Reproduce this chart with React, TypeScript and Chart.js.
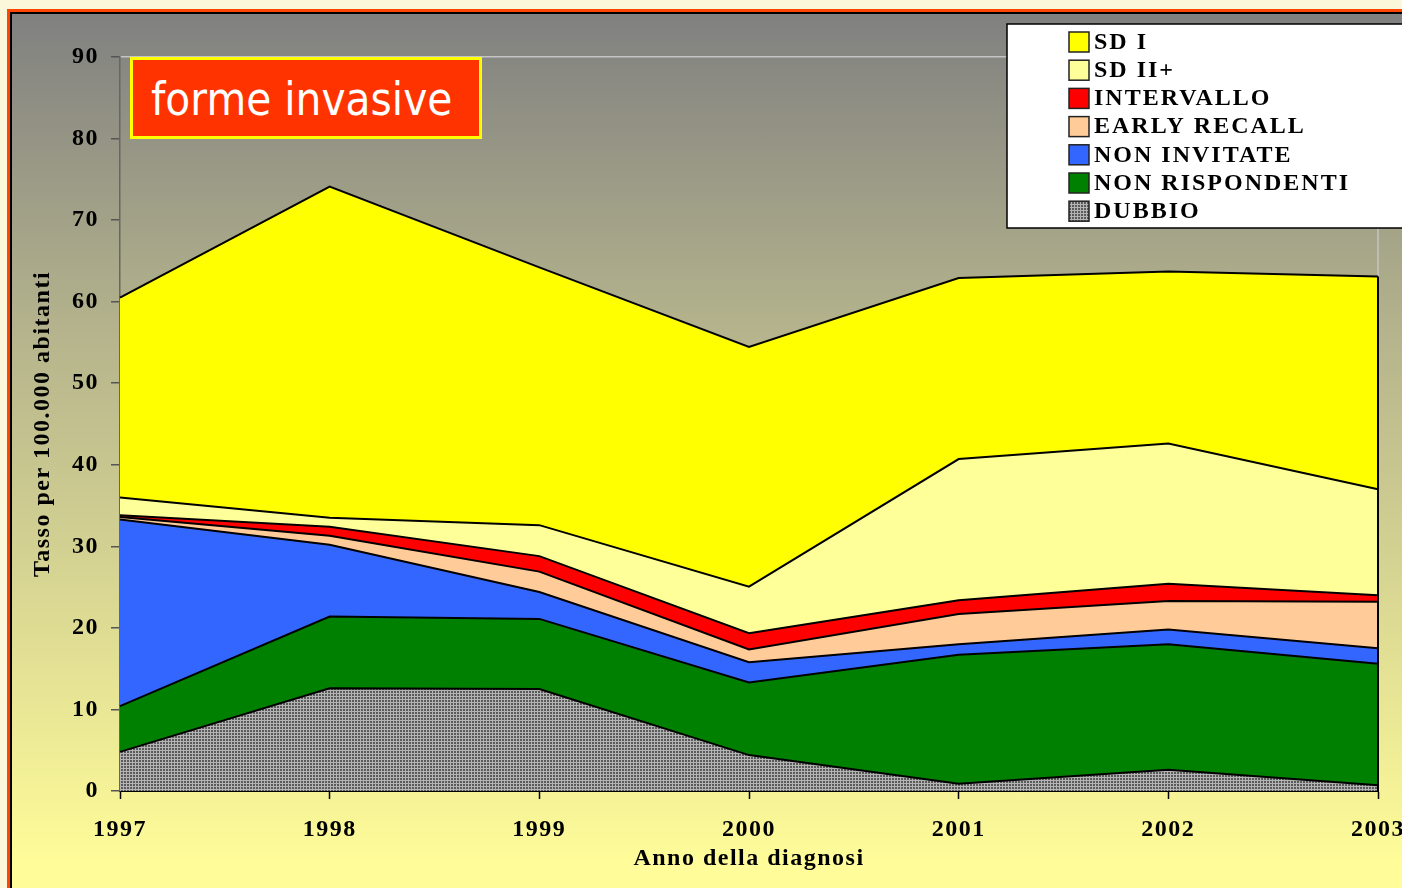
import React, { useEffect, useRef } from 'react';
import { Chart, registerables } from 'chart.js';

Chart.register(...registerables);

// ---- data ----
const years = ['1997', '1998', '1999', '2000', '2001', '2002', '2003'];
const dubbio = [4.8, 12.6, 12.5, 4.4, 0.9, 2.6, 0.7];
const nonRispondenti = [5.6, 8.8, 8.6, 8.9, 15.8, 15.4, 14.9];
const nonInvitate = [22.9, 8.8, 3.3, 2.5, 1.3, 1.8, 1.9];
const earlyRecall = [0.3, 1.1, 2.5, 1.55, 3.7, 3.5, 5.7];
const intervallo = [0.2, 1.1, 1.9, 2.0, 1.7, 2.1, 0.8];
const sdIIplus = [2.2, 1.1, 3.8, 5.7, 17.3, 17.2, 13.0];
const sdI = [24.5, 40.6, 31.6, 29.4, 22.2, 21.1, 26.1];

const seriesNames = ['DUBBIO', 'NON RISPONDENTI', 'NON INVITATE', 'EARLY RECALL', 'INTERVALLO', 'SD II+', 'SD I'];
const seriesValues = [dubbio, nonRispondenti, nonInvitate, earlyRecall, intervallo, sdIIplus, sdI];
const seriesColors = ['pattern', '#008000', '#3366FF', '#FFCC99', '#FF0000', '#FFFF99', '#FFFF00'];

const yMin = 0;
const yMax = 90;
const yStep = 10;
const xTitle = 'Anno della diagnosi';
const yTitle = 'Tasso per 100.000 abitanti';
const chartTitle = 'forme invasive';

const SERIF = "'Liberation Serif', 'Times New Roman', serif";

function makePattern(): CanvasPattern | string {
  const c = document.createElement('canvas');
  c.width = 3;
  c.height = 3;
  const g = c.getContext('2d');
  if (!g) return '#8a8a8a';
  g.fillStyle = '#5a5a5a';
  g.fillRect(0, 0, 3, 3);
  g.fillStyle = '#b4b4b4';
  g.fillRect(0, 0, 3, 1);
  g.fillRect(0, 0, 1, 3);
  return g.createPattern(c, 'repeat') || '#8a8a8a';
}

export default function App() {
  const canvasRef = useRef<HTMLCanvasElement | null>(null);

  useEffect(() => {
    const canvas = canvasRef.current;
    if (!canvas) return;
    const pattern = makePattern();
    const fills = seriesColors.map((c) => (c === 'pattern' ? pattern : c));

    const framePlugin = {
      id: 'framePlugin',
      beforeDraw(chart: any) {
        chart.ctx.letterSpacing = '1.5px';
      },
      beforeDatasetsDraw(chart: any) {
        const { ctx, chartArea } = chart;
        ctx.save();
        ctx.strokeStyle = '#c4c4c4';
        ctx.lineWidth = 1.5;
        ctx.beginPath();
        ctx.moveTo(chartArea.right, chartArea.top);
        ctx.lineTo(chartArea.right, chartArea.bottom);
        ctx.stroke();
        ctx.restore();
      },
      afterDatasetsDraw(chart: any) {
        const { ctx, chartArea, scales } = chart;
        const last = years.length - 1;
        const total = seriesValues.reduce((s, arr) => s + arr[last], 0);
        ctx.save();
        ctx.strokeStyle = '#000';
        ctx.lineWidth = 2;
        ctx.beginPath();
        ctx.moveTo(chartArea.right, scales.y.getPixelForValue(total));
        ctx.lineTo(chartArea.right, chartArea.bottom);
        ctx.stroke();
        ctx.restore();
      },
      afterDraw(chart: any) {
        const ctx = chart.ctx as CanvasRenderingContext2D;
        ctx.save();
        // legend box
        ctx.fillStyle = '#ffffff';
        ctx.fillRect(1007, 24, 430, 204);
        ctx.strokeStyle = '#000';
        ctx.lineWidth = 1.5;
        ctx.strokeRect(1007, 24, 430, 204);
        const ds = chart.data.datasets;
        const order = [6, 5, 4, 3, 2, 1, 0];
        order.forEach((idx, i) => {
          const y0 = 32 + i * 28.2;
          ctx.fillStyle = ds[idx].backgroundColor;
          ctx.fillRect(1069, y0, 20, 20);
          ctx.strokeStyle = '#222';
          ctx.lineWidth = 1.5;
          ctx.strokeRect(1069, y0, 20, 20);
          ctx.fillStyle = '#000';
          (ctx as any).letterSpacing = '2px';
          ctx.font = `bold 24px ${SERIF}`;
          ctx.textAlign = 'left';
          ctx.textBaseline = 'alphabetic';
          ctx.fillText(ds[idx].label, 1094, y0 + 16.8);
        });
        ctx.restore();
      },
    };

    const chart = new Chart(canvas, {
      type: 'line',
      data: {
        labels: years,
        datasets: seriesValues.map((vals, i) => ({
          label: seriesNames[i],
          data: vals,
          backgroundColor: fills[i] as any,
          borderColor: '#000',
          borderWidth: 2,
          pointRadius: 0,
          pointHoverRadius: 0,
          tension: 0,
          fill: i === 0 ? 'origin' : '-1',
        })),
      },
      options: {
        animation: false,
        responsive: false,
        devicePixelRatio: 1,
        events: [],
        layout: { padding: { left: 0, top: 57, right: 52, bottom: 0 } },
        plugins: {
          legend: { display: false },
          tooltip: { enabled: false },
          title: { display: false },
        },
        scales: {
          x: {
            type: 'category',
            offset: false,
            grid: { display: true, drawOnChartArea: false, tickLength: 8, tickColor: '#000', tickWidth: 1.5 },
            border: { display: true, color: '#000', width: 2 },
            ticks: {
              color: '#000',
              font: { family: SERIF, size: 24, weight: 'bold' },
              padding: 16,
              maxRotation: 0,
              autoSkip: false,
            },
            title: {
              display: true,
              text: xTitle,
              color: '#000',
              font: { family: SERIF, size: 24, weight: 'bold' },
              padding: { top: 0, bottom: 15 },
            },
            afterFit(scale: any) {
              scale.height = 97;
            },
          },
          y: {
            stacked: true,
            min: yMin,
            max: yMax,
            grid: {
              display: true,
              drawOnChartArea: true,
              color: (c: any) => (c.tick && c.tick.value === yMax ? '#c4c4c4' : 'rgba(0,0,0,0)'),
              lineWidth: 1.5,
              tickLength: 9,
              tickColor: '#555',
              tickWidth: 1.5,
            },
            border: { display: true, color: '#666', width: 1.5 },
            ticks: {
              stepSize: yStep,
              color: '#000',
              font: { family: SERIF, size: 24, weight: 'bold' },
              padding: 12,
            },
            title: {
              display: true,
              text: yTitle,
              color: '#000',
              font: { family: SERIF, size: 24, weight: 'bold' },
              padding: { top: 28, bottom: 0 },
            },
            afterFit(scale: any) {
              scale.width = 120;
            },
          },
        },
      } as any,
      plugins: [framePlugin],
    });
    return () => chart.destroy();
  }, []);

  return (
    <div
      style={{
        position: 'fixed',
        left: 0,
        top: 0,
        width: 1402,
        height: 888,
        overflow: 'hidden',
        background: '#FBF7DA',
      }}
    >
      <div
        style={{
          position: 'absolute',
          left: 7,
          top: 9,
          width: 1430,
          height: 900,
          borderLeft: '3px solid #FF4500',
          borderTop: '3px solid #FF4500',
          boxSizing: 'border-box',
        }}
      >
        <div
          style={{
            position: 'absolute',
            left: 0,
            top: 0,
            right: 0,
            bottom: 0,
            borderLeft: '2px solid #000',
            borderTop: '2px solid #000',
            background: 'linear-gradient(180deg, #808080 0px, #B2B18C 300px, #FFFC99 850px)',
          }}
        />
      </div>
      <canvas
        ref={canvasRef}
        width={1430}
        height={888}
        style={{ position: 'absolute', left: 0, top: 0, width: 1430, height: 888 }}
      />
      <div
        style={{
          position: 'absolute',
          left: 130,
          top: 57,
          width: 352,
          height: 82,
          boxSizing: 'border-box',
          border: '3px solid #FFFF00',
          background: '#FF3300',
        }}
      />
      <div
        style={{
          position: 'absolute',
          left: 151,
          top: 76,
          fontFamily: "'DejaVu Sans', Verdana, sans-serif",
          fontSize: 46,
          lineHeight: '46px',
          color: '#ffffff',
          whiteSpace: 'nowrap',
          transform: 'scaleX(0.887)',
          transformOrigin: 'left top',
        }}
      >
        {chartTitle}
      </div>
    </div>
  );
}
